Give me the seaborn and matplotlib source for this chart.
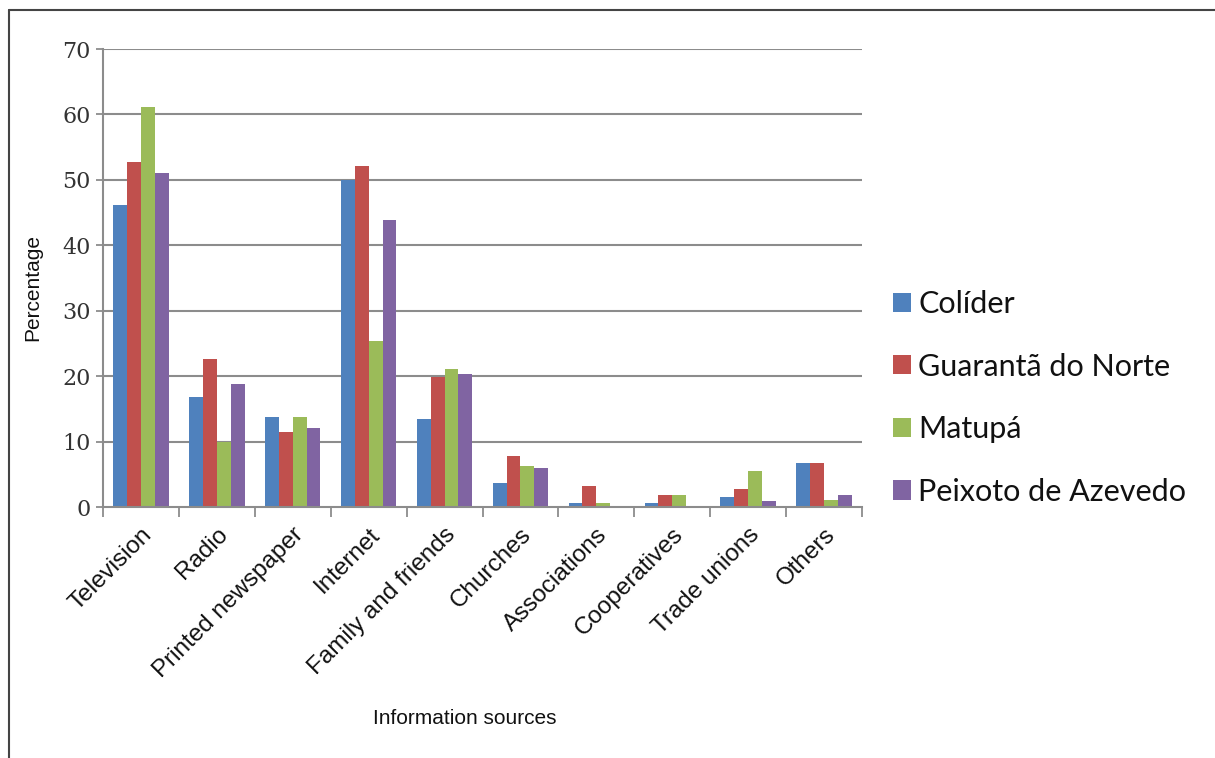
import numpy as np
import pandas as pd
import matplotlib
matplotlib.use("Agg")
import matplotlib.pyplot as plt
from matplotlib.lines import Line2D
from matplotlib.patches import Patch
import seaborn as sns

categories = ["Television", "Radio", "Printed newspaper", "Internet", "Family and friends",
              "Churches", "Associations", "Cooperatives", "Trade unions", "Others"]
colider = [46.2, 16.8, 13.7, 50.0, 13.4, 3.7, 0.6, 0.6, 1.6, 6.7]
guaranta = [52.8, 22.6, 11.4, 52.1, 19.9, 7.8, 3.2, 1.9, 2.7, 6.7]
matupa = [61.2, 9.9, 13.7, 25.4, 21.1, 6.2, 0.6, 1.9, 5.5, 1.1]
peixoto = [51.0, 18.8, 12.0, 43.9, 20.4, 6.0, 0.0, 0.0, 0.9, 1.9]
series_names = ["Colíder", "Guarantã do Norte", "Matupá", "Peixoto de Azevedo"]
y_ticks = [0, 10, 20, 30, 40, 50, 60, 70]

colors = ["#4F81BD", "#C0504D", "#9BBB59", "#8064A2"]

rows = []
for name, vals in zip(series_names, [colider, guaranta, matupa, peixoto]):
    for c, v in zip(categories, vals):
        rows.append({"source": c, "city": name, "value": v})
df = pd.DataFrame(rows)

sns.set_theme(style="white")
W, H = 1215, 758
fig = plt.figure(figsize=(W / 100, H / 100), dpi=100)
ax = fig.add_axes([103 / W, 1 - 507 / H, (862 - 103) / W, (507 - 49) / H])

sns.barplot(data=df, x="source", y="value", hue="city", order=categories,
            hue_order=series_names, palette=colors, width=0.73, saturation=1,
            edgecolor="none", linewidth=0, ax=ax, legend=False)

grid_c = "#8c8c8c"
ax.set_ylim(0, 70)
ax.set_xlim(-0.5, len(categories) - 0.5)
ax.set_yticks(y_ticks)
ax.set_yticklabels([str(t) for t in y_ticks], fontfamily="DejaVu Serif", fontsize=16, color="#333333")
for t in y_ticks[1:]:
    ax.axhline(t, color=grid_c, lw=1.5, zorder=0)
ax.set_axisbelow(True)

ax.set_xticks(range(len(categories)))
ax.set_xticklabels(categories, rotation=45, ha="right", rotation_mode="anchor",
                   fontfamily="Liberation Sans", fontsize=17.5, color="#111111")
ax.set_xticks(np.arange(-0.5, len(categories), 1.0), minor=True)
ax.tick_params(axis="x", which="major", length=0, pad=12)
ax.tick_params(axis="x", which="minor", length=7, width=1.3, color=grid_c, direction="out", bottom=True)
ax.tick_params(axis="y", length=5, width=1.3, color=grid_c, direction="out", left=True, pad=4)

for s in ["top", "right"]:
    ax.spines[s].set_visible(False)
for s in ["left", "bottom"]:
    ax.spines[s].set_color(grid_c)
    ax.spines[s].set_linewidth(1.5)

ax.set_xlabel("")
ax.set_ylabel("")

fig.text(465 / W, 1 - 718 / H, "Information sources", ha="center", va="center",
         fontfamily="Liberation Sans", fontsize=15, color="#111111")
fig.text(33 / W, 1 - 287 / H, "Percentage", ha="center", va="center", rotation=90,
         fontfamily="Liberation Sans", fontsize=15, color="#111111")

handles = [Patch(facecolor=c, edgecolor="none") for c in colors]
leg = fig.legend(handles, series_names, loc="upper left",
                 bbox_to_anchor=(893 / W, 1 - 290 / H), frameon=False,
                 borderaxespad=0, borderpad=0,
                 prop={"family": "Lato", "size": 22}, handlelength=0.6, handleheight=0.6,
                 handletextpad=0.22, labelspacing=1.13, labelcolor="#111111")

fig.add_artist(Line2D([9 / W, 9 / W], [0, 1 - 10 / H], color="#444444", lw=1.5))
fig.add_artist(Line2D([9 / W, 1], [1 - 10 / H, 1 - 10 / H], color="#444444", lw=1.5))

fig.savefig("out.png", dpi=100)
